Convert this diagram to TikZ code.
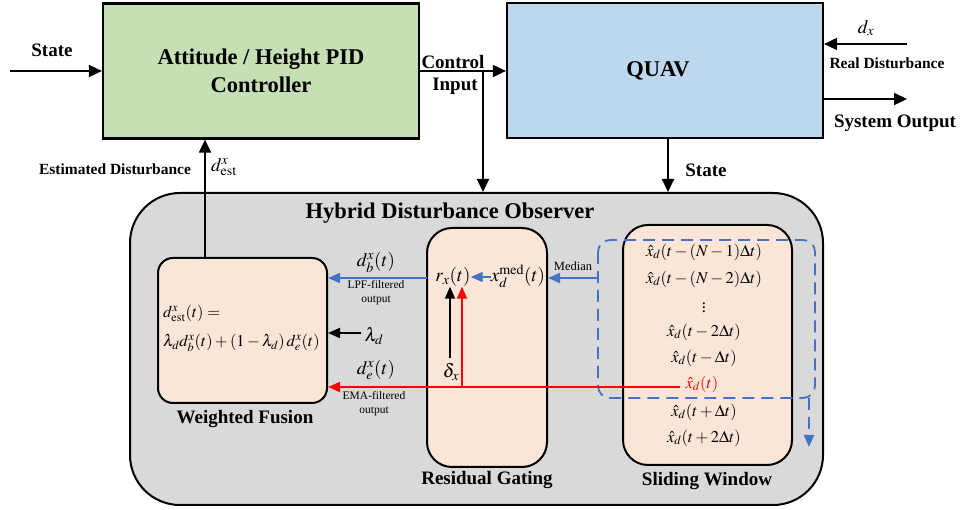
\documentclass[tikz,border=0pt]{standalone}
\usepackage{mathptmx}
\usepackage{fontspec}
\setmainfont{Liberation Serif}
\usetikzlibrary{arrows.meta}
\definecolor{pidgreen}{HTML}{C5E0B4}
\definecolor{quavblue}{HTML}{BDD7EE}
\definecolor{obsgray}{HTML}{D9D9D9}
\definecolor{peach}{HTML}{FBE5D6}
\definecolor{lineblue}{HTML}{4472C4}
\definecolor{linered}{HTML}{FF0000}
\begin{document}
\begin{tikzpicture}[x=1pt,y=-1pt,
  blockbox/.style={draw=black,line width=2.2pt,minimum width=316pt,minimum height=135pt,inner sep=0pt,align=center,font=\fontsize{22.5}{28}\selectfont\bfseries},
  innerbox/.style={draw=black,line width=2pt,fill=peach,inner sep=0pt},
  lbl/.style={font=\fontsize{19}{22}\selectfont\bfseries,inner sep=0pt},
  slbl/.style={font=\fontsize{15.5}{18}\selectfont\bfseries,inner sep=0pt},
  tiny/.style={font=\fontsize{11.5}{14}\selectfont,align=center,inner sep=0pt},
  mth/.style={font=\fontsize{16.5}{19}\selectfont,inner sep=0pt},
  bmth/.style={font=\fontsize{19}{22}\selectfont,inner sep=0pt},
  arr/.style={line width=1.8pt,-{Triangle[length=13pt,width=12pt]}},
  barr/.style={line width=1.8pt,-{Triangle[length=12pt,width=10pt]}},
  bluearr/.style={draw=lineblue,line width=1.8pt,-{Triangle[length=12pt,width=10pt]}},
  redarr/.style={draw=linered,line width=1.8pt,-{Triangle[length=12pt,width=10pt]}},
  dashblue/.style={draw=lineblue,line width=1.8pt,dash pattern=on 12pt off 7pt}
]
\useasboundingbox (0,0) rectangle (962,510);
% top blocks
\node[blockbox,fill=pidgreen] (pid) at (261,71) {Attitude / Height PID\\Controller};
\node[blockbox,fill=quavblue] (quav) at (665,70.5) {\hspace*{-14pt}QUAV};
% observer
\node[draw=black,line width=2pt,fill=obsgray,rounded corners=50pt,minimum width=693pt,minimum height=312pt,inner sep=0pt] (obs) at (476.5,349) {};
\node[font=\fontsize{22.5}{26}\selectfont\bfseries] (obstitle) at (450,213) {Hybrid Disturbance Observer};
% inner boxes
\node[innerbox,rounded corners=15pt,minimum width=169pt,minimum height=145pt] (fus) at (242.5,330.5) {};
\node[innerbox,rounded corners=25pt,minimum width=120pt,minimum height=239pt] (res) at (487,347.5) {};
\node[innerbox,rounded corners=25pt,minimum width=169pt,minimum height=240pt] (sw) at (707.5,345) {};
% dashed window
\draw[dashblue,rounded corners=12pt] (598,240) rectangle (815,398);
\coordinate (dwa) at (809,398);
\coordinate (dwb) at (809,447);
\draw[dashblue,-{Triangle[length=12pt,width=10pt]}] (dwa) -- (dwb);
% box labels
\node[lbl] (fuslbl) at (245,419) {Weighted Fusion};
\node[lbl] (reslbl) at (487,480) {Residual Gating};
\node[lbl] (swlbl) at (707,481) {Sliding Window};
% fusion formula
\node[mth,anchor=west] (f1) at (163,313) {$d^{x}_{\mathrm{est}}(t)=$};
\node[mth,anchor=west] (f2) at (163,343) {$\lambda_d d^{x}_{b}(t)+(1-\lambda_d)\,d^{x}_{e}(t)$};
% residual content
\node[bmth] (rx) at (453,277) {$r_x(t)$};
\node[bmth] (xmed) at (518,276) {$x_d^{\mathrm{med}}(t)$};
\node[bmth] (delta) at (451,372) {$\delta_x$};
% sliding window entries
\node[mth] (w1) at (704,252) {$\hat{x}_d(t-(N-1)\Delta t)$};
\node[mth] (w2) at (704,279) {$\hat{x}_d(t-(N-2)\Delta t)$};
\node[mth] (w3) at (704,305) {$\vdots$};
\node[mth] (w4) at (704,332) {$\hat{x}_d(t-2\Delta t)$};
\node[mth] (w5) at (704,358) {$\hat{x}_d(t-\Delta t)$};
\node[mth,text=linered] (w6) at (702,384) {$\hat{x}_d(t)$};
\node[mth] (w7) at (704,412) {$\hat{x}_d(t+\Delta t)$};
\node[mth] (w8) at (704,438) {$\hat{x}_d(t+2\Delta t)$};
% top connectors
\coordinate (sin) at (10,71);
\draw[arr] (sin) -- (pid.west);
\draw[arr] (pid.east) -- (pid.east -| quav.west);
\coordinate (ci) at (483,71);
\draw[arr] (ci) -- (ci |- obs.north);
\coordinate (qs) at (668,138);
\draw[arr] (qs) -- (qs |- obs.north);
\coordinate (dxs) at (907,44);
\draw[arr] (dxs) -- (dxs -| quav.east);
\coordinate (so) at (907,99);
\draw[arr] (so -| quav.east) -- (so);
\coordinate (estb) at (205,258);
\draw[arr] (estb) -- (estb |- pid.south);
% top labels
\node[lbl] (statel) at (52,50) {State};
\node[lbl] (ctrl1) at (453,62) {Control};
\node[lbl] (ctrl2) at (455,86) {Input};
\node[bmth] (dxl) at (866,28) {$d_x$};
\node[slbl] (rdl) at (887,63) {Real Disturbance};
\node[lbl] (sol) at (895,123) {System Output};
\node[lbl] (state2) at (706,170) {State};
\node[slbl] (edl) at (115,169) {Estimated Disturbance};
\node[bmth] (destl) at (224,167) {$d^{x}_{\mathrm{est}}$};
% inner connectors
\coordinate (ml) at (598,278);
\draw[bluearr] (ml) -- (ml -| res.east);
\draw[bluearr] (xmed.west |- rx.east) -- (rx.east);
\coordinate (lpf) at (427,278);
\draw[bluearr] (lpf) -- (lpf -| fus.east);
\coordinate (lamc) at (361,333);
\draw[barr] (lamc) -- (lamc -| fus.east);
\node[bmth] (lam) at (374,336) {$\lambda_d$};
\coordinate (redst) at (680,387);
\coordinate (redbr) at (462,387);
\draw[redarr] (redst) -- (redst -| fus.east);
\draw[redarr] (redbr) -- (redbr |- rx.south);
\coordinate (dlt) at (450,358);
\draw[barr] (dlt) -- (dlt |- rx.south);
% inner labels
\node[bmth] (dbl) at (376,262) {$d^{x}_{b}(t)$};
\node[tiny] (lpfl) at (376,293) {LPF-filtered\\output};
\node[bmth] (del) at (376,370) {$d^{x}_{e}(t)$};
\node[tiny] (emal) at (374,404) {EMA-filtered\\output};
\node[font=\fontsize{12.5}{15}\selectfont,inner sep=0pt] (medl) at (573,266) {Median};
\end{tikzpicture}
\end{document}
